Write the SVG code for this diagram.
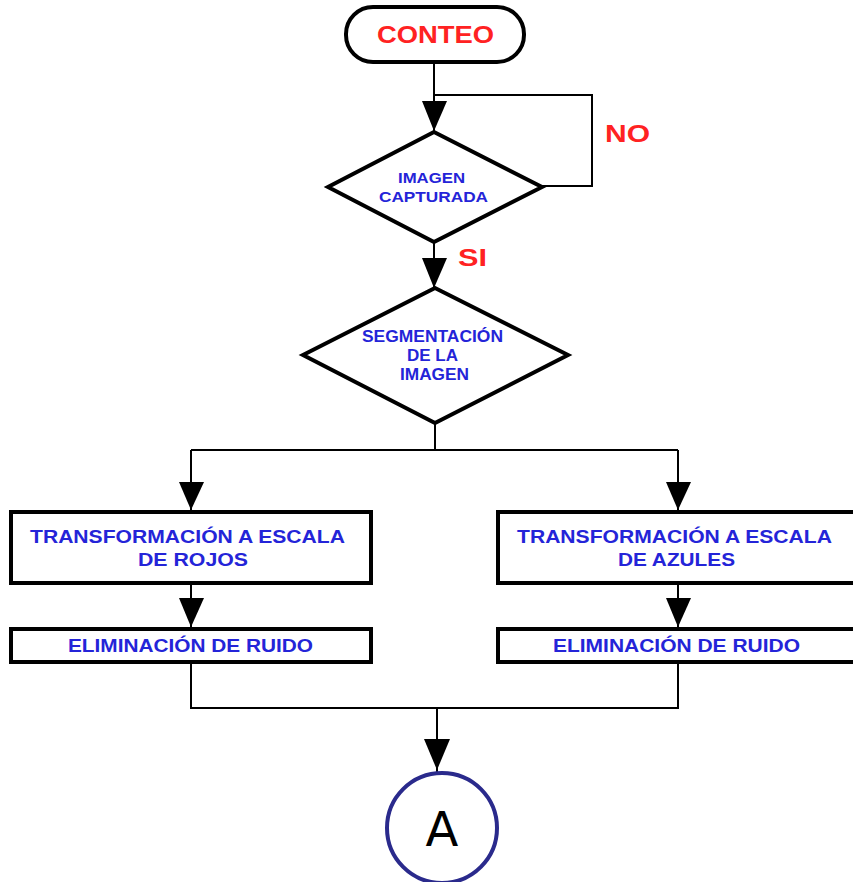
<svg xmlns="http://www.w3.org/2000/svg" width="853" height="882" viewBox="0 0 853 882">
<style>
.shape{fill:#fff;stroke:#000;stroke-width:4}
.con{fill:none;stroke:#000;stroke-width:2}
.ah{fill:#000}
.bt{font-family:"Liberation Sans",Arial,sans-serif;font-weight:bold;fill:#2424d8;text-anchor:middle}
.rt{font-family:"Liberation Sans",Arial,sans-serif;font-weight:bold;fill:#ff2222;text-anchor:middle}
</style>
<rect width="853" height="882" fill="#fff"/>
<g id="connectors">
<path class="con" d="M434 63 V132"/>
<path class="con" d="M434 95 H592 V186 H542"/>
<path class="con" d="M434 242 V288"/>
<path class="con" d="M435 423 V450 M191 450 H678 M191 450 V511 M678 450 V511"/>
<path class="con" d="M191 583 V628 M678 583 V628"/>
<path class="con" d="M191 662 V708 H678 V662 M437 708 V772"/>
<polygon class="ah" points="422,101 447,101 434,131"/>
<polygon class="ah" points="422,258 447,258 434,288"/>
<polygon class="ah" points="179,482 204,482 191,510"/>
<polygon class="ah" points="666,482 691,482 678,510"/>
<polygon class="ah" points="179,598 204,598 191,627"/>
<polygon class="ah" points="666,598 691,598 678,627"/>
<polygon class="ah" points="424,739 450,739 437,770"/>
<text class="rt" x="627.5" y="142" font-size="24" textLength="45" lengthAdjust="spacingAndGlyphs">NO</text>
<text class="rt" x="472.5" y="266" font-size="24" textLength="29" lengthAdjust="spacingAndGlyphs">SI</text>
</g>
<g id="conteo">
<rect class="shape" x="346" y="7" width="178" height="55" rx="27"/>
<text class="rt" x="435.5" y="43" font-size="24" textLength="117" lengthAdjust="spacingAndGlyphs">CONTEO</text>
</g>
<g id="imagen-capturada">
<polygon class="shape" points="434,132 542,187 434,242 328,187"/>
<text class="bt" x="431.5" y="183" font-size="15" textLength="67" lengthAdjust="spacingAndGlyphs">IMAGEN</text>
<text class="bt" x="433.5" y="202" font-size="15" textLength="109" lengthAdjust="spacingAndGlyphs">CAPTURADA</text>
</g>
<g id="segmentacion">
<polygon class="shape" points="435,288 568,355 435,423 303,355"/>
<text class="bt" x="432.5" y="342" font-size="16" textLength="141" lengthAdjust="spacingAndGlyphs">SEGMENTACIÓN</text>
<text class="bt" x="432.5" y="361" font-size="16" textLength="51" lengthAdjust="spacingAndGlyphs">DE LA</text>
<text class="bt" x="434.5" y="380" font-size="16" textLength="69" lengthAdjust="spacingAndGlyphs">IMAGEN</text>
</g>
<g id="rojos">
<rect class="shape" x="11" y="512" width="360" height="71"/>
<text class="bt" x="187.5" y="543" font-size="19" textLength="315" lengthAdjust="spacingAndGlyphs">TRANSFORMACIÓN A ESCALA</text>
<text class="bt" x="193" y="566" font-size="19" textLength="110" lengthAdjust="spacingAndGlyphs">DE ROJOS</text>
</g>
<g id="ruido-izq">
<rect class="shape" x="11" y="629" width="360" height="33"/>
<text class="bt" x="190.5" y="652" font-size="18" textLength="245" lengthAdjust="spacingAndGlyphs">ELIMINACIÓN DE RUIDO</text>
</g>
<g id="azules">
<rect class="shape" x="498" y="512" width="360" height="71"/>
<text class="bt" x="674.5" y="543" font-size="19" textLength="315" lengthAdjust="spacingAndGlyphs">TRANSFORMACIÓN A ESCALA</text>
<text class="bt" x="676.5" y="566" font-size="19" textLength="117" lengthAdjust="spacingAndGlyphs">DE AZULES</text>
</g>
<g id="ruido-der">
<rect class="shape" x="498" y="629" width="360" height="33"/>
<text class="bt" x="676.5" y="652" font-size="18" textLength="247" lengthAdjust="spacingAndGlyphs">ELIMINACIÓN DE RUIDO</text>
</g>
<g id="conector-a">
<circle cx="442" cy="828" r="55" fill="#fff" stroke="#2a2a8c" stroke-width="4"/>
<text x="442" y="846" font-size="48" font-family="DejaVu Sans,sans-serif" text-anchor="middle" fill="#000">A</text>
</g>
</svg>
